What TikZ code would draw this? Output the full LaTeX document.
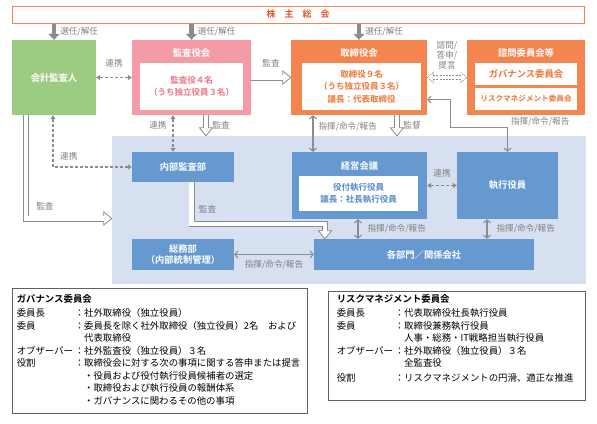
\documentclass[tikz,border=0pt]{standalone}
\usepackage{fontspec}
\setmainfont{Noto Sans CJK JP}[BoldFont={Noto Sans CJK JP Bold}]
\usetikzlibrary{arrows.meta}
\usetikzlibrary{calc}
\usetikzlibrary{positioning}

\definecolor{kgreen}{HTML}{9BCC82}
\definecolor{kpink}{HTML}{F49BA6}
\definecolor{kpinktxt}{HTML}{EF7585}
\definecolor{korange}{HTML}{F48550}
\definecolor{korangetxt}{HTML}{F07636}
\definecolor{kred}{HTML}{E8552B}
\definecolor{kblue}{HTML}{6599D0}
\definecolor{kbluetxt}{HTML}{5588C8}
\definecolor{kback}{HTML}{D6E0F1}
\definecolor{kgray}{HTML}{8C8C8C}
\definecolor{klabel}{HTML}{808080}
\definecolor{kframe}{HTML}{606060}

\tikzset{
    orgbox/.style = {rectangle, inner sep=0pt, align=center, text=white, font=\bfseries\fontsize{9.3}{12}\selectfont},
    greenbox/.style = {orgbox, fill=kgreen},
    pinkbox/.style = {orgbox, fill=kpink},
    orangebox/.style = {orgbox, fill=korange},
    bluebox/.style = {orgbox, fill=kblue, font=\bfseries\fontsize{9.3}{11.5}\selectfont},
    boxtitle/.style = {inner sep=0pt, text=white, font=\bfseries\fontsize{9.3}{12}\selectfont},
    innerbox/.style = {rectangle, fill=white, inner sep=0pt, align=center, font=\bfseries\fontsize{8.5}{12.5}\selectfont},
    topbar/.style = {rectangle, draw=korange, line width=1pt, fill=white, inner sep=0pt, text=kred, font=\bfseries\fontsize{9}{11}\selectfont},
    backbox/.style = {rectangle, fill=kback, inner sep=0pt},
    notebox/.style = {rectangle, draw=kframe, line width=0.8pt, fill=white, inner sep=0pt},
    notetext/.style = {anchor=north west, inner sep=0pt, align=left, font=\fontsize{9.4}{12.5}\selectfont},
    lbl/.style = {inner sep=1pt, text=klabel, font=\fontsize{8.6}{10}\selectfont},
    elect/.style = {draw=kgray, line width=4.5pt, -{Triangle[length=6pt,width=11pt]}},
    cmd/.style = {draw=kgray, line width=1.1pt, {Straight Barb[length=3pt,width=7pt]}-{Straight Barb[length=3pt,width=7pt]}},
    link/.style = {draw=kgray, line width=1.1pt, dash pattern=on 3pt off 2pt, {Triangle[length=4pt,width=5pt]}-{Triangle[length=4pt,width=5pt]}},
    hollow/.style = {draw=kgray, line width=0.8pt, double=white, double distance=4.4pt, line join=miter, shorten >=8pt},
    hollowdash/.style = {draw=kgray, line width=0.6pt, double=white, double distance=3pt, dash pattern=on 2pt off 1.2pt, shorten <=6pt, shorten >=6pt},
    hhead/.pic = {\path[draw=kgray, fill=white, line width=0.8pt, line join=miter] (-8,-2.6) -- (-8,-6.5) -- (0,0) -- (-8,6.5) -- (-8,2.6);},
    dhead/.pic = {\path[draw=kgray, fill=white, line width=0.6pt, dash pattern=on 1.5pt off 1pt] (-6,-1.8) -- (-6,-5) -- (0,0) -- (-6,5) -- (-6,1.8);},
}

\begin{document}
\begin{tikzpicture}[x=1pt, y=-1pt]
\useasboundingbox (0,0) rectangle (597,423);
% executive area
\node[backbox, minimum width=474pt, minimum height=148pt] at (349,210) (exec) {};
\node[topbar, minimum width=572pt, minimum height=17pt] at (298,14.5) (meeting) {株　主　総　会};
%
\node[greenbox, minimum width=84pt, minimum height=75pt] at (54,77.5) (auditor) {会計監査人};
\node[pinkbox, minimum width=119pt, minimum height=75pt] at (191.5,77.5) (kansayaku) {};
\node[boxtitle] at (191.5,53) (kansayakut) {監査役会};
\node[innerbox, text=kpinktxt, minimum width=103pt, minimum height=47pt] at (191.5,86.5) (kansayakui) {監査役４名\\（うち独立役員３名）};
\node[orangebox, minimum width=136pt, minimum height=75pt] at (359,77.5) (board) {};
\node[boxtitle] at (359,53) (boardt) {取締役会};
\node[innerbox, text=korangetxt, minimum width=119pt, minimum height=47pt] at (361.5,86.5) (boardi) {取締役９名\\（うち独立役員３名）\\議長：代表取締役};
\node[orangebox, minimum width=118pt, minimum height=75pt] at (526,77.5) (advisory) {};
\node[boxtitle] at (526,53) (advisoryt) {諮問委員会等};
\node[innerbox, text=korangetxt, minimum width=102pt, minimum height=22pt, font=\bfseries\fontsize{9.3}{11}\selectfont] at (526,74) (govc) {ガバナンス委員会};
\node[innerbox, text=korangetxt, minimum width=102pt, minimum height=22pt, font=\bfseries\fontsize{7.6}{10}\selectfont] at (526,99) (riskc) {リスクマネジメント委員会};
%
\node[bluebox, minimum width=102pt, minimum height=30pt] at (183,167) (audit) {内部監査部};
\node[bluebox, minimum width=135pt, minimum height=67pt] at (359.5,185.5) (mgmt) {};
\node[boxtitle] at (359.5,166) (mgmtt) {経営会議};
\node[innerbox, text=kbluetxt, minimum width=119pt, minimum height=35pt] at (358.5,193.5) (mgmti) {役付執行役員\\議長：社長執行役員};
\node[bluebox, minimum width=101pt, minimum height=67pt] at (507.5,185.5) (officers) {執行役員};
\node[bluebox, minimum width=102pt, minimum height=31pt] at (183,254.5) (general) {総務部\\（内部統制管理）};
\node[bluebox, minimum width=220pt, minimum height=31pt] at (424,254.5) (depts) {各部門／関係会社};
%
\coordinate (k1) at ($(kansayaku.south)+(-18.5,0)$);
\coordinate (k2) at ($(kansayaku.south)+(14.5,0)$);
\coordinate (b1) at ($(board.south)+(-46,0)$);
\coordinate (b2) at ($(board.south)+(38,0)$);
\coordinate (t1) at ($(board.east)+(0,22)$);
\coordinate (a1) at ($(auditor.south)+(-28,0)$);
\coordinate (a2) at ($(auditor.south)+(-1,0)$);
\coordinate (x1) at ($(exec.west)+(0,8.5)$);
\coordinate (i1) at ($(audit.south)+(8.5,0)$);
\coordinate (d1) at ($(depts.north)+(-99,0)$);
\coordinate (d2) at ($(depts.north)+(-66,0)$);
\coordinate (d3) at ($(depts.north)+(63,0)$);
%
\draw[elect] (meeting.south -| auditor.north) -- (auditor.north) node[lbl, midway, right=3pt] {選任/解任};
\draw[elect] (meeting.south -| kansayaku.north) -- (kansayaku.north) node[lbl, midway, right=3pt] {選任/解任};
\draw[elect] (meeting.south -| board.north) -- (board.north) node[lbl, midway, right=3pt] {選任/解任};
%
\draw[link] (auditor.east) -- (kansayaku.west) node[lbl, midway, above=9pt] {連携};
\draw[hollow] (kansayaku.east) -- (board.west) node[lbl, midway, above=9pt] {監査};
\pic at (board.west) {hhead};
\draw[hollowdash] (board.east) -- (advisory.west) node[lbl, midway, above=7pt, align=center] {諮問/\\答申/\\提言};
\pic at (advisory.west) {dhead};
\pic[rotate=180] at (board.east) {dhead};
%
\draw[link] (k1) -- (k1 |- audit.north) node[lbl, pos=0.27, left=5pt] {連携};
\draw[hollow] (k2) -- (k2 |- exec.north) node[lbl, midway, right=5pt] {監査};
\pic[rotate=-90] at (k2 |- exec.north) {hhead};
\draw[cmd] (b1) -- (b1 |- mgmt.north) node[lbl, pos=0.3, right=4pt] {指揮/命令/報告};
\draw[hollow] (b2) -- (b2 |- exec.north) node[lbl, midway, right=5pt] {監督};
\pic[rotate=-90] at (b2 |- exec.north) {hhead};
\draw[cmd] (t1) -- ++(23,0) |- ($(officers.north)+(0,-24)$) node[lbl, anchor=south west, xshift=2pt] {指揮/命令/報告} -- (officers.north);
%
\draw[link] (a2) |- (audit.west) node[lbl, pos=0.6, above=5pt] {連携};
\draw[hollow] (a1) |- (x1) node[lbl, pos=0.61, above=7pt] {監査};
\pic at (x1) {hhead};
\draw[hollow] (i1) -- ++(0,41.5) node[lbl, pos=0.65, right=6pt] {監査} -| (d1);
\pic[rotate=-90] at (d1) {hhead};
%
\draw[link] (mgmt.east) -- (officers.west) node[lbl, midway, above=7pt] {連携};
\draw[cmd] (d2) -- (d2 |- mgmt.south) node[lbl, midway, right=8pt] {指揮/命令/報告};
\draw[cmd] (d3) -- (d3 |- officers.south) node[lbl, midway, right=8pt] {指揮/命令/報告};
\draw[cmd] (general.east) -- (depts.west) node[lbl, midway, below=4pt] {指揮/命令/報告};
%
\node[notebox, minimum width=295pt, minimum height=125pt] at (159.5,350.5) (govbox) {};
\node[notetext] at ($(govbox.north west)+(5,6)$) (govtext) {%
\begin{tabular}{@{}p{58pt}@{}l@{}}
\multicolumn{2}{@{}l@{}}{\bfseries ガバナンス委員会}\\[1.5pt]
委員長 & ：社外取締役（独立役員）\\
委員 & ：委員長を除く社外取締役（独立役員）2名　および\\
 & \phantom{：}代表取締役\\
オブザーバー & ：社外監査役（独立役員）３名\\
役割 & ：取締役会に対する次の事項に関する答申または提言\\
 & \phantom{：}・役員および役付執行役員候補者の選定\\
 & \phantom{：}・取締役および執行役員の報酬体系\\
 & \phantom{：}・ガバナンスに関わるその他の事項
\end{tabular}};
\node[notebox, minimum width=257pt, minimum height=109pt] at (456.5,345.5) (riskbox) {};
\node[notetext] at ($(riskbox.north west)+(9,3)$) (risktext) {%
\begin{tabular}{@{}p{58pt}@{}l@{}}
\multicolumn{2}{@{}l@{}}{\bfseries リスクマネジメント委員会}\\[1.5pt]
委員長 & ：代表取締役社長執行役員\\
委員 & ：取締役兼務執行役員\\
 & \phantom{：}人事・総務・IT戦略担当執行役員\\
オブザーバー & ：社外取締役（独立役員）３名\\
 & \phantom{：}全監査役\\[2pt]
役割 & ：リスクマネジメントの円滑、適正な推進
\end{tabular}};
\end{tikzpicture}
\end{document}
